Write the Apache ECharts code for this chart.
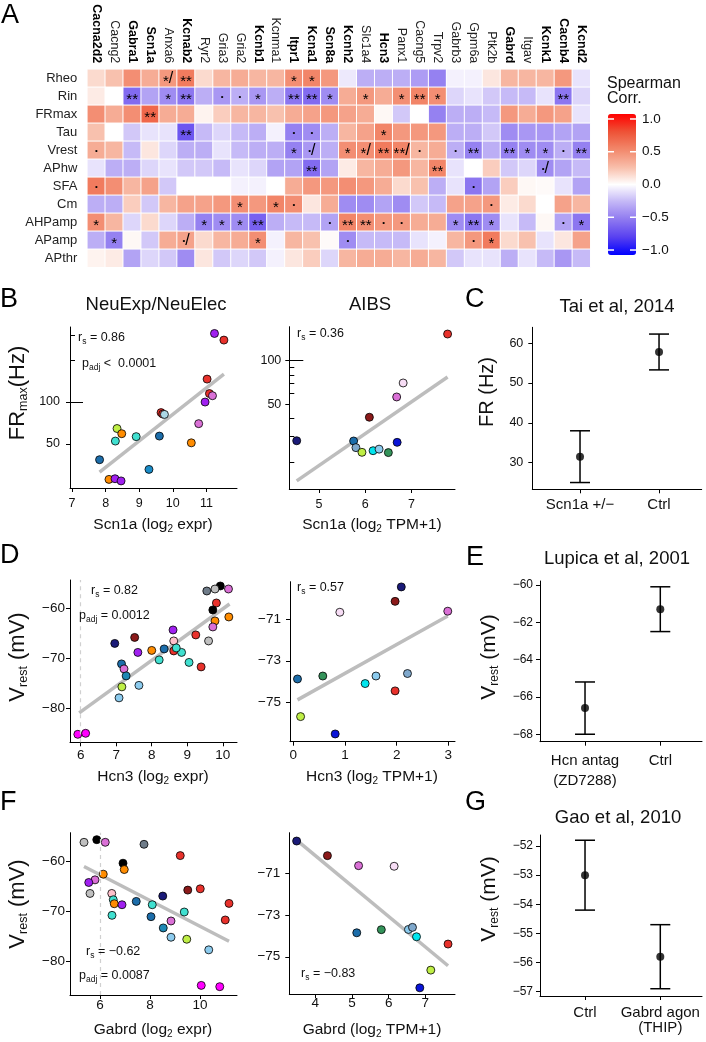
<!DOCTYPE html>
<html><head><meta charset="utf-8">
<script src="https://cdn.jsdelivr.net/npm/echarts@6/dist/echarts.min.js"></script>
<style>html,body{margin:0;padding:0;background:#fff}#c{width:706px;height:1042px}</style>
</head><body><div id="c"></div>
<script>
// ---------------- Panel A data ----------------
const genes = ['Cacna2d2','Cacng2','Gabra1','Scn1a','Anxa6','Kcnab2','Ryr2','Gria3','Gria2','Kcnb1','Kcnma1','Itpr1','Kcna1','Scn8a','Kcnh2','Slc1a4','Hcn3','Panx1','Cacng5','Trpv2','Gabrb3','Gpm6a','Ptk2b','Gabrd','Itgav','Kcnk1','Cacnb4','Kcnd2'];
const boldGenes = ['Cacna2d2','Gabra1','Scn1a','Kcnab2','Kcnb1','Itpr1','Kcna1','Scn8a','Kcnh2','Hcn3','Gabrd','Kcnk1','Cacnb4','Kcnd2'];
const features = ['Rheo','Rin','FRmax','Tau','Vrest','APhw','SFA','Cm','AHPamp','APamp','APthr'];
const corrRheo   = [0.15,0.25,0.5,0.35,0.45,0.6,0.15,0.3,0.35,0.3,0.3,0.5,0.55,0.45,-0.08,-0.3,-0.3,-0.3,-0.38,-0.5,-0.05,-0.05,0.1,0.3,0.3,0.3,0.45,-0.1];
const corrRin    = [0.08,0.0,-0.6,-0.35,-0.45,-0.55,-0.3,-0.4,-0.3,-0.4,-0.3,-0.55,-0.6,-0.45,0.35,0.45,0.35,0.5,0.55,0.5,-0.15,-0.1,-0.2,-0.25,-0.25,-0.1,-0.55,-0.15];
const corrFRmax  = [0.5,0.35,0.5,0.7,0.35,0.35,0.05,0.2,0.3,0.3,0.25,0.35,0.4,0.45,0.4,0.35,0.03,-0.2,0.0,-0.5,-0.3,-0.3,-0.25,0.45,0.35,0.45,0.4,-0.1];
const corrTau    = [0.25,0.0,-0.2,-0.1,-0.1,-0.7,-0.25,-0.15,-0.25,-0.3,-0.05,-0.5,-0.45,-0.3,0.3,0.4,0.55,0.45,0.45,0.45,-0.3,-0.3,-0.2,-0.45,-0.4,-0.4,-0.35,-0.35];
const corrVrest  = [0.35,0.3,-0.25,0.1,-0.15,-0.3,-0.3,-0.1,-0.25,-0.3,-0.3,-0.5,-0.4,-0.3,0.5,0.5,0.6,0.55,0.3,0.35,-0.3,-0.5,-0.3,-0.5,-0.45,-0.45,-0.3,-0.5];
const corrAPhw   = [-0.1,-0.3,-0.3,-0.15,-0.1,-0.2,-0.2,-0.25,-0.1,-0.15,-0.35,-0.35,-0.6,-0.35,0.08,0.3,0.35,0.45,0.3,0.55,-0.1,0.0,0.2,-0.2,-0.15,-0.45,-0.35,-0.25];
const corrSFA    = [0.6,0.5,0.3,0.4,-0.2,0.0,0.0,0.0,-0.05,-0.05,0.0,0.35,0.45,0.45,0.5,0.45,0.35,0.15,0.25,-0.3,-0.1,-0.55,-0.35,0.2,0.03,0.02,-0.1,-0.35];
const corrCm     = [-0.3,-0.3,0.2,-0.2,0.3,0.4,0.4,0.45,0.5,0.45,0.55,0.5,0.1,0.35,-0.45,-0.45,-0.35,-0.45,-0.2,-0.25,0.4,0.4,0.45,0.08,0.15,0.0,0.4,0.3];
const corrAHPamp = [0.5,0.3,-0.15,0.15,-0.15,-0.3,-0.5,-0.45,-0.45,-0.65,-0.3,-0.25,-0.25,-0.35,0.55,0.5,0.45,0.45,0.35,0.35,-0.45,-0.55,-0.45,-0.1,-0.25,0.03,-0.35,-0.55];
const corrAPamp  = [-0.3,-0.5,0.03,-0.2,0.35,0.4,0.15,0.3,0.35,0.5,-0.05,0.3,0.25,0.02,-0.45,-0.25,-0.25,-0.25,-0.1,-0.05,0.3,0.45,0.6,0.15,0.25,-0.1,0.1,0.4];
const corrAPthr  = [0.05,0.08,-0.35,-0.15,-0.2,-0.45,0.1,-0.2,-0.15,-0.2,-0.05,0.1,0.2,-0.15,0.3,0.35,0.35,0.3,0.35,0.3,-0.2,-0.1,-0.1,-0.3,-0.1,-0.25,-0.4,-0.25];
const sigRheo   = {Anxa6:'*/', Kcnab2:'**', Itpr1:'*', Kcna1:'*'};
const sigRin    = {Gabra1:'**', Anxa6:'*', Kcnab2:'**', Gria3:'.', Gria2:'.', Kcnb1:'*', Itpr1:'**', Kcna1:'**', Scn8a:'*', Slc1a4:'*', Panx1:'*', Cacng5:'**', Trpv2:'*', Cacnb4:'**'};
const sigFRmax  = {Scn1a:'**'};
const sigTau    = {Kcnab2:'**', Itpr1:'.', Kcna1:'.', Hcn3:'*'};
const sigVrest  = {Cacna2d2:'.', Itpr1:'*', Kcna1:'./', Kcnh2:'*', Slc1a4:'*/', Hcn3:'**', Panx1:'**/', Cacng5:'.', Gabrb3:'.', Gpm6a:'**', Gabrd:'**', Itgav:'*', Kcnk1:'*', Cacnb4:'.', Kcnd2:'**'};
const sigAPhw   = {Kcna1:'**', Trpv2:'**', Kcnk1:'./'};
const sigSFA    = {Cacna2d2:'.', Gpm6a:'.'};
const sigCm     = {Gria2:'*', Kcnma1:'*', Itpr1:'.', Ptk2b:'.'};
const sigAHPamp = {Cacna2d2:'*', Ryr2:'*', Gria3:'*', Gria2:'*', Kcnb1:'**', Scn8a:'.', Kcnh2:'**', Slc1a4:'**', Hcn3:'.', Panx1:'.', Gabrb3:'*', Gpm6a:'**', Ptk2b:'*', Cacnb4:'.', Kcnd2:'*'};
const sigAPamp  = {Cacng2:'*', Kcnab2:'./', Kcnb1:'*', Kcnh2:'.', Gpm6a:'.', Ptk2b:'*'};
const sigAPthr  = {};
const legendTicks = [1.0, 0.5, 0.0, -0.5, -1.0];

// ---------------- Panel B ----------------
const bNeuX = [11.24,11.52,11.02,11.09,11.18,10.96,10.77,10.55,9.65,9.70,9.75,9.60,8.91,8.34,8.48,8.29,7.82,9.29,8.10,8.28,8.46];
const bNeuY = [310,278,146,115,111,100,70,51,84,82,81.5,57,56.5,64.6,59.3,52.5,38.6,32.9,27.9,28.2,27.2];
const bNeuType = ['purple','red','red','red','orchid','purple','orchid','orange','red','red','lightblue','steelblue','turquoise','yellowgreen','orange','turquoise','steelblue','deepskyblue','orange','purple','purple'];
const bNeuFit = [[7.82,31.5],[11.52,158.7]];
const bAibsX = [7.78,6.82,6.68,6.09,4.52,5.75,6.69,5.80,5.93,6.17,6.30,6.50];
const bAibsY = [152.9,70.2,56.2,40.7,28.0,27.9,27.3,25.1,23.3,23.9,24.5,23.2];
const bAibsType = ['red','thistle','orchid','darkred','navy','steelblue','blue','lightsteelblue','yellowgreen','cyan','lightskyblue','seagreen'];
const bAibsFit = [[4.52,14.8],[7.78,77.2]];
const bNeuXTicks = [7,8,9,10,11];
const bAibsXTicks = [5,6,7];
const bYLabels = [50,100];
const bNeuYMinor = [200,300];
const bAibsYMinor = [20,30,40,60,70,80,90];
const bYMajor = [100];

// ---------------- Panel C ----------------
const cCats = ['Scn1a +/\u2212','Ctrl'];
const cMean = [31.5,57.8];
const cLo = [25.0,53.3];
const cHi = [38.0,62.3];
const cYTicks = [30,40,50,60];

// ---------------- Panel D ----------------
const dNeuX = [9.93,9.78,9.55,10.16,9.82,9.72,9.78,10.17,9.72,9.60,9.24,9.39,9.05,8.84,8.60,8.62,8.62,8.69,8.35,8.00,8.21,7.52,6.96,7.61,7.15,7.22,7.28,7.16,7.64,7.08,5.92,6.14];
const dNeuY = [-55.5,-56.1,-56.5,-56.1,-58.9,-60.3,-62.5,-61.7,-63.7,-66.5,-65.3,-71.7,-70.8,-68.8,-64.3,-66.5,-68.5,-67.9,-68.1,-68.4,-70.3,-65.8,-67.0,-68.8,-71.1,-72.1,-73.5,-75.7,-75.4,-77.9,-85.2,-85.0];
const dNeuType = ['black','gray','slategray','orchid','red','black','orange','orange','orchid','gray','red','red','turquoise','turquoise','purple','lightpink','red','turquoise','steelblue','orange','turquoise','darkred','navy','purple','steelblue','orchid','tealblue','yellowgreen','lightskyblue','lightskyblue','magenta','magenta'];
const dNeuFit = [[5.96,-80.9],[10.19,-59.1]];
const dAibsX = [2.09,1.97,0.90,2.99,0.08,0.57,1.39,1.60,2.21,1.97,0.14,0.81];
const dAibsY = [-69.47,-70.16,-70.68,-70.63,-73.87,-73.73,-74.09,-73.73,-73.61,-74.44,-75.67,-76.50];
const dAibsType = ['navy','darkred','thistle','orchid','steelblue','seagreen','cyan','lightskyblue','lightsteelblue','red','yellowgreen','blue'];
const dAibsFit = [[0.08,-74.87],[2.99,-70.86]];
const dNeuXTicks = [6,7,8,9,10];
const dAibsXTicks = [0,1,2,3];
const neuVTicks = [-80,-70,-60];
const aibsVTicks = [-75,-73,-71];
const expressionCutoff = 6;

// ---------------- Panel E ----------------
const eCats = ['Hcn antag\n(ZD7288)','Ctrl'];
const eMean = [-66.6,-61.3];
const eLo = [-68.0,-62.5];
const eHi = [-65.2,-60.1];
const eYTicks = [-68,-66,-64,-62,-60];

// ---------------- Panel F ----------------
const fNeuX = [5.36,5.87,6.21,7.76,9.21,6.92,6.97,6.13,5.80,5.55,5.60,6.47,6.53,6.57,6.88,7.45,8.51,10.01,9.51,11.16,11.01,8.09,8.04,9.37,8.84,8.53,8.84,9.47,10.35,6.48,10.05,10.79];
const fNeuY = [-56.13,-55.6,-56.13,-56.53,-58.8,-60.33,-61.6,-62.53,-63.67,-64.2,-66.4,-66.4,-67.67,-68.47,-68.67,-68.0,-66.93,-65.47,-65.73,-68.4,-71.73,-68.67,-71.07,-70.13,-71.93,-73.33,-75.2,-75.6,-77.73,-70.8,-84.87,-85.13];
const fNeuType = ['gray','black','orchid','slategray','red','black','orange','orange','orchid','purple','gray','lightpink','turquoise','orange','purple','steelblue','navy','red','darkred','red','red','turquoise','steelblue','turquoise','orchid','tealblue','lightskyblue','yellowgreen','lightskyblue','turquoise','magenta','magenta'];
const fNeuFit = [[5.36,-61.0],[11.16,-76.0]];
const fAibsX = [3.49,4.33,5.18,6.15,5.13,5.80,6.54,6.65,6.76,7.62,7.15,6.85];
const fAibsY = [-69.45,-70.15,-70.63,-70.66,-73.85,-73.70,-73.69,-73.59,-74.04,-74.39,-75.64,-76.49];
const fAibsType = ['navy','darkred','orchid','thistle','steelblue','seagreen','lightskyblue','lightsteelblue','cyan','red','yellowgreen','blue'];
const fAibsFit = [[3.54,-69.48],[7.62,-75.43]];
const fNeuXTicks = [6,8,10];
const fAibsXTicks = [4,5,6,7];

// ---------------- Panel G ----------------
const gCats = ['Ctrl','Gabrd agon\n(THIP)'];
const gMean = [-53.0,-55.8];
const gLo = [-54.2,-56.9];
const gHi = [-51.8,-54.7];
const gYTicks = [-57,-56,-55,-54,-53,-52];

// ---------------- styling ----------------
const palette = {
  purple:'#A020F0', red:'#E8312B', orchid:'#DA70D6', orange:'#FF8C00', lightblue:'#ADD8E6',
  steelblue:'#1C6DAA', turquoise:'#40E0D0', yellowgreen:'#BFEF45', deepskyblue:'#1A8CC8',
  navy:'#1A1A78', darkred:'#8B1A1A', cyan:'#00E5EE', lightskyblue:'#8CCBEE', seagreen:'#34935A',
  blue:'#0A14D8', thistle:'#F7DDF5', lightpink:'#FFC0CB', gray:'#C0C0C0', slategray:'#6F7C89',
  black:'#000000', magenta:'#FF00FF', tealblue:'#1E88B4', lightsteelblue:'#7FA8CC'
};
const FONT = '"Liberation Sans", Arial, Helvetica, sans-serif';
const TXT = '#111';
const minus = v => String(Math.round(v * 1000) / 1000).replace('-', '\u2212');
const L10 = v => Math.log10(v);

const corrRows = [corrRheo,corrRin,corrFRmax,corrTau,corrVrest,corrAPhw,corrSFA,corrCm,corrAHPamp,corrAPamp,corrAPthr];
const sigRows = [sigRheo,sigRin,sigFRmax,sigTau,sigVrest,sigAPhw,sigSFA,sigCm,sigAHPamp,sigAPamp,sigAPthr];
const heatData = [];
corrRows.forEach((row, r) => row.forEach((v, c) => heatData.push([c, r, v])));
function fmtSig(s) {
  if (!s) return '';
  return s.split('').map(ch => ch === '*' ? '{st|*}' : ch === '.' ? '{dt|\u2022}' : '{sl|/}').join('');
}

const grids = [
  {left:87.3, top:69.3, width:503, height:198},
  {left:70, top:327, width:167, height:161},
  {left:289.3, top:326.7, width:165.7, height:162.3},
  {left:532.3, top:327.3, width:169.4, height:162},
  {left:70, top:580, width:167, height:162.3},
  {left:290, top:581.7, width:165, height:160},
  {left:540, top:581, width:162, height:160.7},
  {left:70, top:832.7, width:167, height:162.3},
  {left:289.3, top:832.7, width:165.7, height:161.6},
  {left:540, top:835, width:162, height:161}
].map(g => Object.assign({containLabel:false, outerBoundsMode:'none'}, g));

function xVal(gi, min, max, ticks, fs, margin, fmt, lh) {
  return {type:'value', gridIndex:gi, position:'bottom', min, max,
    axisLine:{show:true, onZero:false, lineStyle:{color:'#000', width:1}},
    axisTick:{show:true, length:4, customValues:ticks, lineStyle:{color:'#000', width:1}},
    axisLabel:{show:true, customValues:ticks, formatter:fmt || minus, fontSize:fs, color:TXT, margin, fontFamily:FONT, lineHeight:lh || undefined},
    splitLine:{show:false}};
}
function yVal(gi, min, max, ticks, fs, margin, fmt) {
  return {type:'value', gridIndex:gi, position:'left', min, max,
    axisLine:{show:true, onZero:false, lineStyle:{color:'#000', width:1}},
    axisTick:{show:true, length:4, customValues:ticks, lineStyle:{color:'#000', width:1}},
    axisLabel:{show:true, customValues:ticks, formatter:fmt || minus, fontSize:fs, color:TXT, margin, fontFamily:FONT},
    splitLine:{show:false}};
}
function yDeco(gi, min, max, ticks, len) {
  return {type:'value', gridIndex:gi, position:'left', min, max,
    axisLine:{show:false},
    axisTick:{show:true, inside:true, length:len, customValues:ticks, lineStyle:{color:'#000', width:1}},
    axisLabel:{show:false}, splitLine:{show:false}};
}
const logFmt = v => String(Math.round(Math.pow(10, v)));
const catFmt = cats => v => cats[Math.round(v) - 1];

const bNeuYMin = L10(24.2), bNeuYMax = L10(345);
const bAibsYMin = L10(13.0), bAibsYMax = L10(171.8);

const xAxis = [
  {type:'category', gridIndex:0, position:'top', data:genes,
   axisLine:{show:false}, axisTick:{show:false}, splitLine:{show:false},
   axisLabel:{interval:0, rotate:90, margin:6,
     formatter: v => boldGenes.includes(v) ? '{b|' + v + '}' : '{n|' + v + '}',
     rich:{b:{fontWeight:'bold', fontSize:12.5, color:'#000', fontFamily:FONT}, n:{fontSize:12.5, color:'#222', fontFamily:FONT}}}},
  xVal(1, 6.94, 11.91, bNeuXTicks, 12.5, 9),
  xVal(2, 4.36, 7.94, bAibsXTicks, 12.5, 9),
  xVal(3, 0.396, 2.54, [1,2], 15, 8, catFmt(cCats)),
  xVal(4, 5.70, 10.40, dNeuXTicks, 13.5, 6),
  xVal(5, -0.065, 3.13, dAibsXTicks, 13.5, 7),
  xVal(6, 0.402, 2.554, [1,2], 15, 9, catFmt(eCats), 20),
  xVal(7, 4.8, 11.48, fNeuXTicks, 13.5, 3),
  xVal(8, 3.29, 7.81, fAibsXTicks, 13.5, 2),
  xVal(9, 0.402, 2.554, [1,2], 15, 9, catFmt(gCats), 15)
];
const yAxis = [
  {type:'category', gridIndex:0, position:'left', data:features, inverse:true,
   axisLine:{show:false}, axisTick:{show:false}, splitLine:{show:false},
   axisLabel:{interval:0, margin:10, fontSize:13, color:'#222', fontFamily:FONT}},
  yVal(1, bNeuYMin, bNeuYMax, bYLabels.map(L10), 12.5, 10, logFmt),
  yVal(2, bAibsYMin, bAibsYMax, bYLabels.map(L10), 12.5, 8, logFmt),
  yVal(3, 23.3, 64.0, cYTicks, 12.5, 9),
  yVal(4, -86.8, -54.3, neuVTicks, 13.5, 5),
  yVal(5, -76.87, -69.22, aibsVTicks, 13.5, 9),
  yVal(6, -68.4, -59.79, eYTicks, 12, 7),
  yVal(7, -86.8, -54.2, neuVTicks, 13.5, 5),
  yVal(8, -76.8, -69.05, aibsVTicks, 13.5, 9),
  yVal(9, -57.15, -51.62, gYTicks, 12, 7),
  yDeco(1, bNeuYMin, bNeuYMax, bNeuYMinor.map(L10), 5),
  yDeco(1, bNeuYMin, bNeuYMax, bYMajor.map(L10), 13),
  yDeco(2, bAibsYMin, bAibsYMax, bAibsYMinor.map(L10), 5),
  yDeco(2, bAibsYMin, bAibsYMax, bYMajor.map(L10), 14)
];

function scatterSeries(gi, xs, ys, types, tf) {
  return {type:'scatter', xAxisIndex:gi, yAxisIndex:gi, z:3, symbol:'circle', symbolSize:8, silent:true,
    data: xs.map((x, i) => ({value:[x, tf ? tf(ys[i]) : ys[i]], itemStyle:{color:palette[types[i]]}})),
    itemStyle:{borderColor:'#000', borderWidth:0.8, opacity:1}, emphasis:{disabled:true}};
}
function fitSeries(gi, fit, tf, dashX) {
  const s = {type:'line', xAxisIndex:gi, yAxisIndex:gi, z:2, showSymbol:false, symbol:'none', silent:true,
    data: fit.map(p => [p[0], tf ? tf(p[1]) : p[1]]), lineStyle:{color:'#BDBDBD', width:3.5}};
  if (dashX !== undefined) {
    s.markLine = {silent:true, symbol:['none','none'], label:{show:false}, animation:false,
      lineStyle:{type:[4,4], color:'#D0D0D0', width:1.2}, data:[{xAxis:dashX}]};
  }
  return s;
}
function errSeries(gi, lo, hi) {
  return {type:'custom', xAxisIndex:gi, yAxisIndex:gi, silent:true, z:3,
    data: lo.map((l, i) => [i + 1, l, hi[i]]),
    encode:{x:0, y:[1,2]},
    renderItem: (params, api) => {
      const x = api.value(0);
      const a = api.coord([x, api.value(1)]), b = api.coord([x, api.value(2)]);
      const hw = 10, st = {stroke:'#000', lineWidth:1.5};
      return {type:'group', children:[
        {type:'line', shape:{x1:a[0], y1:a[1], x2:b[0], y2:b[1]}, style:st},
        {type:'line', shape:{x1:a[0]-hw, y1:a[1], x2:a[0]+hw, y2:a[1]}, style:st},
        {type:'line', shape:{x1:b[0]-hw, y1:b[1], x2:b[0]+hw, y2:b[1]}, style:st}]};
    }};
}
function meanSeries(gi, means) {
  return {type:'scatter', xAxisIndex:gi, yAxisIndex:gi, z:4, symbol:'circle', symbolSize:8, silent:true,
    data: means.map((m, i) => [i + 1, m]), itemStyle:{color:'#000'}};
}

const series = [
  {type:'heatmap', xAxisIndex:0, yAxisIndex:0, data:heatData, silent:true,
   itemStyle:{borderColor:'#fff', borderWidth:1},
   label:{show:true, formatter: p => fmtSig(sigRows[p.data[1]][genes[p.data[0]]]),
     rich:{st:{fontSize:15, color:'#000', padding:[7,0,0,0], fontFamily:FONT},
           dt:{fontSize:8, color:'#000', fontFamily:FONT},
           sl:{fontSize:16, color:'#000', fontFamily:FONT}}},
   emphasis:{disabled:true}},
  fitSeries(1, bNeuFit, L10), scatterSeries(1, bNeuX, bNeuY, bNeuType, L10),
  fitSeries(2, bAibsFit, L10), scatterSeries(2, bAibsX, bAibsY, bAibsType, L10),
  errSeries(3, cLo, cHi), meanSeries(3, cMean),
  fitSeries(4, dNeuFit, null, expressionCutoff), scatterSeries(4, dNeuX, dNeuY, dNeuType),
  fitSeries(5, dAibsFit), scatterSeries(5, dAibsX, dAibsY, dAibsType),
  errSeries(6, eLo, eHi), meanSeries(6, eMean),
  fitSeries(7, fNeuFit, null, expressionCutoff), scatterSeries(7, fNeuX, fNeuY, fNeuType),
  fitSeries(8, fAibsFit), scatterSeries(8, fAibsX, fAibsY, fAibsType),
  errSeries(9, gLo, gHi), meanSeries(9, gMean)
];

// ---------------- texts ----------------
function txt(text, x, y, size, o) {
  o = o || {};
  const st = {text, fontSize:size, fontFamily:FONT, fill:o.fill || TXT,
    align:o.align || 'left', verticalAlign:o.va || 'middle',
    textAlign:o.align || 'left', textVerticalAlign:o.va || 'middle'};
  if (o.rich) st.rich = o.rich;
  if (o.lineHeight) st.lineHeight = o.lineHeight;
  const el = {type:'text', x, y, z:100, silent:true, style:st};
  if (o.rot) el.rotation = Math.PI / 2;
  return el;
}
function subRich(main, sub, drop) {
  return {m:{fontSize:main, fontFamily:FONT, fill:TXT, color:TXT},
          s:{fontSize:sub, fontFamily:FONT, fill:TXT, color:TXT, padding:[drop,0,0,0]}};
}
const annRich = subRich(12.5, 8.5, 7);
const xtRich = subRich(15.5, 10, 8);
const ytRich = subRich(22, 12.5, 12);
const letter = (t, x, y) => txt(t, x, y, 27, {fill:'#000'});

const graphic = [
  letter('A', 1, 16), letter('B', 0, 300), letter('C', 465, 300),
  letter('D', 0, 556), letter('E', 466, 558), letter('F', 0, 803), letter('G', 465, 803),
  txt('NeuExp/NeuElec', 156, 305, 18.5, {align:'center'}),
  txt('AIBS', 370, 305, 18.5, {align:'center'}),
  txt('Tai et al, 2014', 617, 307, 18.5, {align:'center'}),
  txt('Lupica et al, 2001', 617, 559, 18.5, {align:'center'}),
  txt('Gao et al, 2010', 618, 818, 18.5, {align:'center'}),
  txt('{m|Scn1a (log}{s|2}{m| expr)}', 153, 525, 15.5, {align:'center', rich:xtRich}),
  txt('{m|Scn1a (log}{s|2}{m| TPM+1)}', 372, 525, 15.5, {align:'center', rich:xtRich}),
  txt('{m|Hcn3 (log}{s|2}{m| expr)}', 153, 777, 15.5, {align:'center', rich:xtRich}),
  txt('{m|Hcn3 (log}{s|2}{m| TPM+1)}', 372, 777, 15.5, {align:'center', rich:xtRich}),
  txt('{m|Gabrd (log}{s|2}{m| expr)}', 153, 1030, 15.5, {align:'center', rich:xtRich}),
  txt('{m|Gabrd (log}{s|2}{m| TPM+1)}', 372, 1030, 15.5, {align:'center', rich:xtRich}),
  txt('{m|FR}{s|max}{m|(Hz)}', 18, 393, 22, {align:'center', rot:true, rich:ytRich}),
  txt('FR (Hz)', 487, 392, 20, {align:'center', rot:true}),
  txt('{m|V}{s|rest}{m| (mV)}', 18, 657, 22, {align:'center', rot:true, rich:ytRich}),
  txt('{m|V}{s|rest}{m| (mV)}', 489, 657, 21, {align:'center', rot:true, rich:subRich(21, 12, 11)}),
  txt('{m|V}{s|rest}{m| (mV)}', 18, 904, 22, {align:'center', rot:true, rich:ytRich}),
  txt('{m|V}{s|rest}{m| (mV)}', 489, 899, 21, {align:'center', rot:true, rich:subRich(21, 12, 11)}),
  txt('{m|r}{s|s}{m| = 0.86}', 78, 338, 12.5, {rich:annRich}),
  txt('{m|p}{s|adj}{m| <  0.0001}', 82, 364, 12.5, {rich:annRich}),
  txt('{m|r}{s|s}{m| = 0.36}', 297, 334, 12.5, {rich:annRich}),
  txt('{m|r}{s|s}{m| = 0.82}', 91, 591, 12.5, {rich:annRich}),
  txt('{m|p}{s|adj}{m| = 0.0012}', 79, 616, 12.5, {rich:annRich}),
  txt('{m|r}{s|s}{m| = 0.57}', 297, 588, 12.5, {rich:annRich}),
  txt('{m|r}{s|s}{m| = \u22120.62}', 86, 952, 12.5, {rich:annRich}),
  txt('{m|p}{s|adj}{m| = 0.0087}', 79, 976, 12.5, {rich:annRich}),
  txt('{m|r}{s|s}{m| = \u22120.83}', 301, 974, 12.5, {rich:annRich}),
  txt('Spearman\nCorr.', 607, 91, 16, {va:'middle', lineHeight:15, fill:'#111'})
];
const vmMin = -1.076, vmMax = 1.076, vmTop = 114, vmH = 141, vmLeft = 608, vmW = 28;
legendTicks.forEach(v => {
  const y = vmTop + (vmMax - v) / (vmMax - vmMin) * vmH;
  graphic.push(txt(minus(v.toFixed(1)).replace(/^(\u2212?)(\d)$/, '$1$2.0'), 642, y, 13.5, {fill:'#111'}));
  if (v !== 0) {
    graphic.push({type:'line', z:100, silent:true, shape:{x1:vmLeft, y1:y, x2:vmLeft + 6, y2:y}, style:{stroke:'#fff', lineWidth:1.5}});
    graphic.push({type:'line', z:100, silent:true, shape:{x1:vmLeft + vmW - 6, y1:y, x2:vmLeft + vmW, y2:y}, style:{stroke:'#fff', lineWidth:1.5}});
  }
});

const option = {
  animation:false,
  backgroundColor:'#fff',
  textStyle:{fontFamily:FONT},
  grid:grids, xAxis, yAxis, series, graphic,
  visualMap:[{type:'continuous', seriesIndex:0, min:vmMin, max:vmMax, calculable:false, hoverLink:false,
    orient:'vertical', left:vmLeft, top:vmTop, itemWidth:vmW, itemHeight:vmH, padding:0,
    inRange:{color:['#0000FF','#5840F0','#8E78F0','#C2B5F6','#FFFFFF','#F8BCA8','#F2876A','#EE5236','#FF0000']}}]
};
const chart = echarts.init(document.getElementById('c'), null, {renderer:'canvas'});
chart.setOption(option);
</script></body></html>
